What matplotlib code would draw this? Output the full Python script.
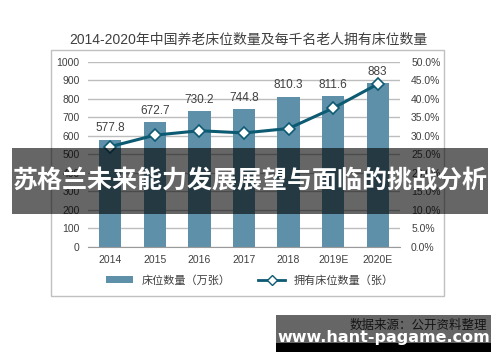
import numpy as np
import matplotlib.pyplot as plt
from matplotlib.patches import Rectangle
from matplotlib.lines import Line2D
from matplotlib.patches import Patch

plt.rcParams['font.family'] = ['Liberation Sans', 'Noto Sans CJK SC', 'DejaVu Sans']

years = ['2014', '2015', '2016', '2017', '2018', '2019E', '2020E']
beds = [577.8, 672.7, 730.2, 744.8, 810.3, 811.6, 883]
per_thousand = [27.0, 30.1, 31.3, 30.7, 31.9, 37.4, 43.9]

bar_color = '#5e90a9'
line_color = '#0d5a73'
text_color = '#404040'

fig = plt.figure(figsize=(5, 3.62), dpi=100)
fig.patch.set_facecolor('white')

# outer frame of the chart
fig.patches.append(Rectangle((0.102, 0.182), 0.786, 0.680, transform=fig.transFigure,
                             fill=False, edgecolor='#c0c0c0', linewidth=1.0))

ax = fig.add_axes([0.176, 0.319, 0.624, 0.511])
x = np.arange(len(years))
ax.bar(x, beds, width=0.5, color=bar_color, zorder=2)
for xi, v in zip(x, beds):
    ax.text(xi, v + 28, f'{v:g}', ha='center', va='bottom', fontsize=8.5, color=text_color)

ax.set_xlim(-0.5, 6.5)
ax.set_ylim(0, 1000)
ax.set_yticks(np.arange(0, 1001, 100))
ax.set_xticks(x)
ax.set_xticklabels(years)
ax.grid(axis='y', color='#bdbdbd', linewidth=1.0, zorder=0)
for s in ['top', 'right', 'left']:
    ax.spines[s].set_visible(False)
ax.spines['bottom'].set_color('#9a9a9a')
ax.tick_params(axis='both', length=0, labelsize=7.5, colors='#404040', pad=6)

ax2 = ax.twinx()
ax2.plot(x, per_thousand, color=line_color, linewidth=2.2, marker='D', markersize=6.5,
         markerfacecolor='white', markeredgecolor=line_color, markeredgewidth=1.2, zorder=3)
ax2.set_ylim(0, 50)
ax2.set_yticks(np.arange(0, 51, 5))
ax2.set_yticklabels([f'{v:.1f}%' for v in np.arange(0, 51, 5)])
for s in ['top', 'right', 'left', 'bottom']:
    ax2.spines[s].set_visible(False)
ax2.tick_params(axis='y', length=0, labelsize=7.5, colors='#404040', pad=8)

fig.text(0.496, 0.89, '2014-2020年中国养老床位数量及每千名老人拥有床位数量',
         ha='center', va='center', fontsize=10, color=text_color)

handles = [Patch(facecolor=bar_color, edgecolor='none'),
           Line2D([0], [0], color=line_color, linewidth=2, marker='D', markersize=5,
                  markerfacecolor='white', markeredgecolor=line_color)]
fig.legend(handles, ['床位数量（万张）', '拥有床位数量（张）'], loc='center',
           bbox_to_anchor=(0.5, 0.226), ncol=2, frameon=False, fontsize=8,
           handlelength=2.4, handleheight=0.5, columnspacing=2.5, labelcolor=text_color)

# source text and watermark
fig.text(0.70, 0.10, '数据来源：公开资料整理', ha='left', va='center', fontsize=9, color='#333333')
fig.patches.append(Rectangle((0.552, 0.028), 0.43, 0.102, transform=fig.transFigure,
                             facecolor='black', alpha=0.6, edgecolor='none', zorder=5))
fig.patches.append(Rectangle((0.552, 0.028), 0.43, 0.025, transform=fig.transFigure,
                             facecolor='black', edgecolor='none', zorder=5))
fig.text(0.767, 0.068, 'www.hant-pagame.com', ha='center', va='center', fontsize=11.5,
         color='white', fontweight='bold', family=['DejaVu Sans'], zorder=6)

# overlay banner
fig.patches.append(Rectangle((0.024, 0.409), 0.952, 0.182, transform=fig.transFigure,
                             facecolor='black', alpha=0.6, edgecolor='none', zorder=5))
fig.text(0.5, 0.5, '苏格兰未来能力发展展望与面临的挑战分析', ha='center', va='center',
         fontsize=18, color='white', fontweight='bold', family=['Noto Sans CJK SC'], zorder=6)

fig.savefig('out.png', dpi=100)
